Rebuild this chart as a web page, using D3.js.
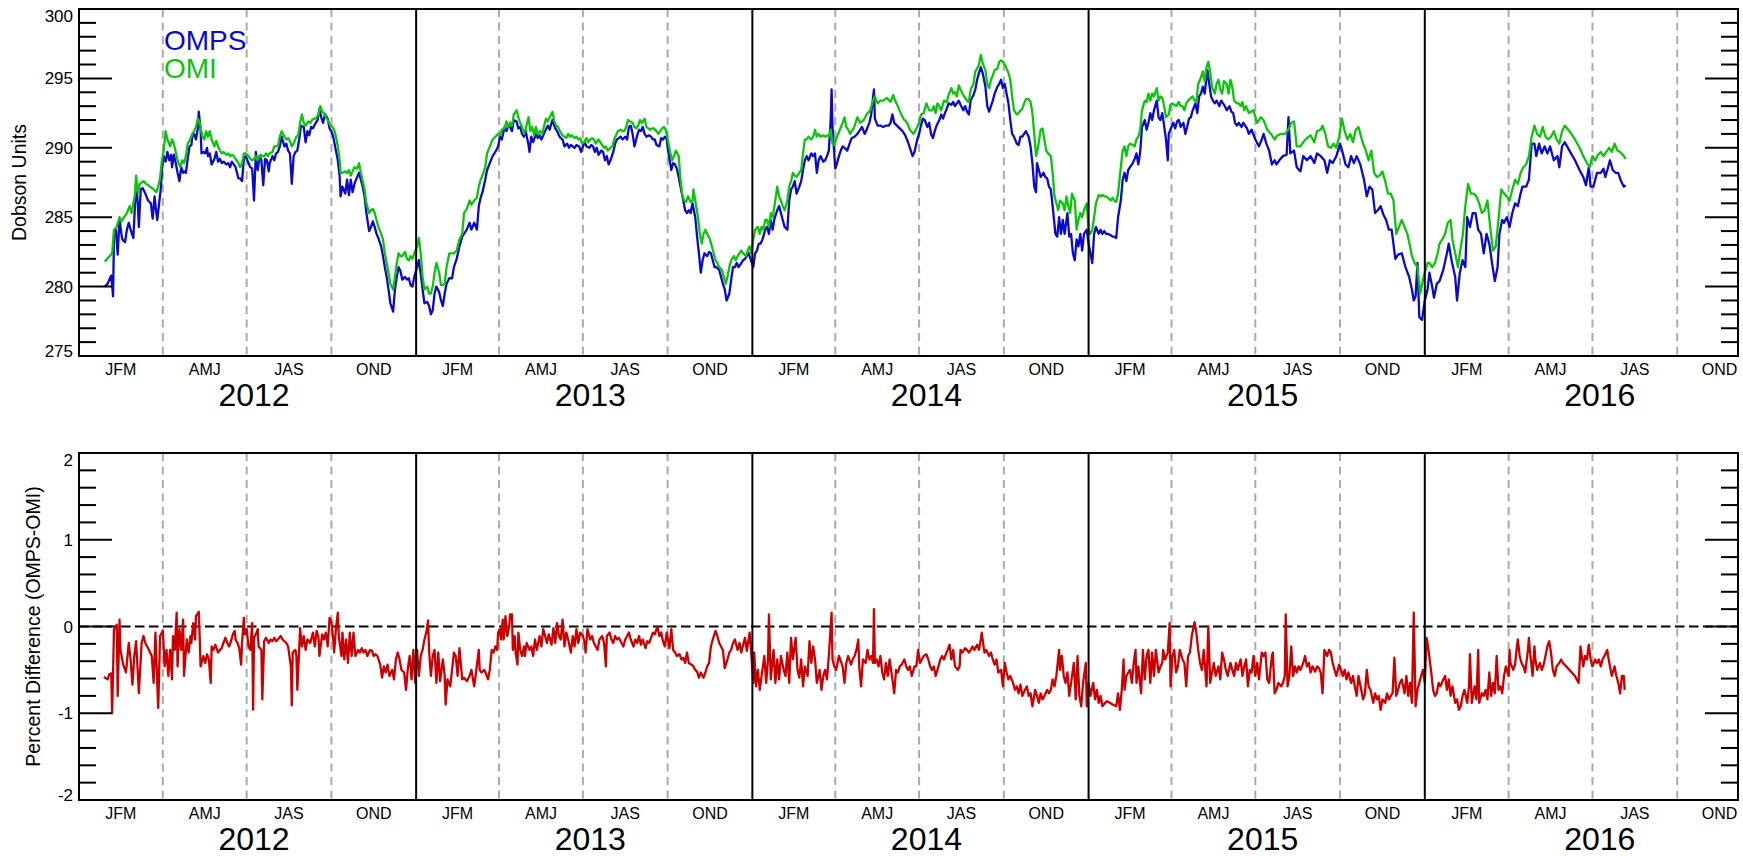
<!DOCTYPE html>
<html><head><meta charset="utf-8">
<script src="https://cdn.jsdelivr.net/npm/d3@7"></script>
<style>body{margin:0;background:#fff}svg{display:block}</style>
</head><body><svg id="chart" width="1743" height="856"></svg>
<script>
// ---- data (day = days since 2012-01-01) ----
const years = [2012, 2013, 2014, 2015, 2016];
const quarterLabels = ["JFM", "AMJ", "JAS", "OND"];
const ozoneTicks = [275, 280, 285, 290, 295, 300];
const diffTicks = [-2, -1, 0, 1, 2];
const legendNames = ["OMPS", "OMI"];

const ompsSeries = [[28,280.0],[31,280.2],[35,280.8],[37,279.3],[38,283.8],[40,284.1],[42,282.3],[44,284.9],[46,283.8],[47,283.4],[50,283.2],[52,284.1],[54,284.6],[56,284.1],[59,283.5],[60,284.8],[62,287.6],[64,285.8],[65,284.3],[67,287.0],[69,287.1],[72,286.7],[75,286.2],[78,286.0],[80,284.9],[82,286.5],[84,285.3],[85,284.8],[87,286.0],[89,287.2],[90,288.4],[92,289.4],[94,289.0],[96,289.7],[98,289.1],[100,289.5],[101,288.6],[103,289.5],[105,288.9],[107,288.2],[109,287.6],[111,288.6],[113,288.2],[114,288.3],[116,288.2],[118,289.2],[120,290.1],[122,290.2],[123,290.8],[125,291.0],[127,290.6],[129,291.4],[130,292.6],[132,291.3],[133,289.6],[135,289.7],[137,289.6],[139,290.0],[140,289.4],[142,289.6],[144,288.8],[147,289.2],[149,289.7],[151,289.0],[153,289.2],[155,288.9],[157,289.0],[160,288.8],[162,288.9],[164,288.6],[166,289.0],[168,288.8],[170,288.6],[173,287.8],[175,287.8],[177,287.6],[179,289.2],[181,289.4],[184,288.9],[186,288.6],[188,288.5],[190,286.2],[192,289.7],[194,288.4],[196,289.4],[198,289.1],[200,287.3],[202,289.2],[204,289.1],[206,288.3],[207,288.9],[210,289.4],[212,289.1],[214,289.6],[216,289.7],[218,290.1],[220,290.8],[223,290.1],[225,290.3],[227,289.8],[229,289.6],[231,287.4],[233,289.4],[235,289.7],[237,289.8],[239,290.6],[241,291.6],[244,291.5],[246,290.4],[248,291.2],[250,290.9],[252,291.5],[254,291.4],[257,291.8],[259,292.0],[261,292.8],[263,292.2],[265,291.8],[267,292.4],[270,292.1],[272,291.4],[274,291.2],[276,290.8],[278,290.1],[281,289.1],[283,287.9],[284,286.5],[286,287.2],[289,286.7],[291,287.7],[293,286.6],[295,287.7],[297,286.8],[299,287.4],[302,287.9],[304,288.2],[306,287.7],[308,287.2],[310,286.5],[312,285.3],[315,284.0],[317,284.3],[319,284.7],[321,284.3],[323,283.8],[325,283.5],[328,282.9],[330,282.2],[332,281.4],[334,280.7],[336,279.8],[338,278.8],[341,278.2],[343,279.8],[345,280.7],[347,281.4],[349,281.1],[351,280.5],[354,280.7],[356,280.5],[358,280.6],[360,280.1],[362,280.0],[364,280.7],[367,281.4],[369,281.9],[371,280.9],[373,279.8],[375,278.8],[378,278.9],[380,278.6],[382,278.0],[384,278.3],[386,279.5],[388,280.0],[391,279.6],[393,279.0],[395,278.6],[397,279.5],[399,280.2],[402,280.6],
[405,280.6],[407,281.4],[410,282.0],[413,282.9],[416,283.6],[418,283.8],[421,284.1],[424,284.6],[426,284.1],[429,284.6],[432,284.1],[434,285.8],[436,286.4],[438,286.8],[441,287.7],[443,288.4],[446,288.9],[449,289.4],[452,289.7],[455,290.1],[457,290.8],[459,290.6],[462,291.5],[464,291.2],[466,291.6],[468,291.5],[470,291.2],[472,292.0],[475,291.9],[477,291.4],[479,291.5],[481,291.0],[483,290.8],[485,291.2],[488,290.2],[489,289.7],[491,290.8],[493,290.4],[496,291.0],[498,290.7],[500,290.9],[502,290.6],[504,290.9],[506,291.2],[509,291.6],[511,291.3],[513,291.8],[514,292.0],[517,291.4],[519,291.2],[521,290.9],[523,290.7],[525,290.6],[527,290.1],[530,290.3],[532,290.0],[534,290.2],[536,290.1],[538,290.0],[540,290.2],[543,290.1],[545,289.7],[547,290.1],[549,290.4],[551,290.1],[554,290.0],[556,290.2],[558,290.1],[560,289.7],[562,290.0],[564,289.5],[567,289.8],[569,289.7],[571,289.1],[573,289.4],[575,288.8],[577,289.1],[580,289.7],[582,290.3],[584,290.6],[586,290.7],[588,290.8],[590,290.6],[593,290.8],[595,290.6],[597,291.5],[599,291.6],[601,291.0],[603,290.1],[606,290.9],[608,291.3],[610,291.2],[612,291.5],[614,291.0],[616,290.8],[619,290.9],[621,290.8],[623,290.6],[625,290.6],[627,290.2],[630,290.1],[632,290.7],[634,290.6],[636,290.8],[638,290.6],[640,289.6],[643,288.4],[645,288.9],[647,288.8],[649,288.5],[651,287.9],[653,287.2],[656,286.2],[658,285.5],[660,285.3],[662,285.5],[664,285.3],[666,286.0],[669,285.0],[671,283.6],[673,282.4],[675,281.0],[677,281.9],[679,282.4],[682,282.2],[684,282.5],[686,282.4],[688,281.9],[690,281.4],[692,281.4],[695,281.2],[697,280.7],[699,280.2],[701,279.8],[703,279.0],[706,279.5],[708,280.5],[710,281.4],[712,281.4],[714,281.7],[716,281.4],[719,281.7],[721,281.9],[723,282.0],[725,282.2],[727,282.4],[729,282.0],[732,281.4],[734,282.4],[736,282.6],[738,283.1],[740,283.1],[742,283.4],[745,284.1],[747,284.3],[749,283.8],[751,284.8],[753,284.1],[755,284.9],[758,285.5],[760,285.8],[762,285.3],[764,284.8],[766,284.3],[769,284.1],[771,286.2],[773,287.0],[775,287.2],[777,287.6],[779,286.7],[782,287.2],[784,287.6],[786,288.4],[788,289.1],[790,289.4],[792,289.1],[795,289.6],[797,289.4],[799,289.6],[801,288.2],[803,289.1],[805,289.4],[808,289.0],[810,289.1],[812,289.4],[814,289.8],[816,292.0],[817,294.2],[818,291.5],[821,288.5],[823,288.9],[825,289.4],[827,289.8],[829,290.1],[831,290.0],[834,289.8],[836,290.2],
[837,290.4],[839,290.7],[842,290.8],[845,291.0],[847,291.2],[850,291.5],[853,291.0],[855,291.3],[858,291.8],[860,292.4],[863,294.2],[864,292.1],[867,291.6],[870,291.6],[873,291.5],[876,291.6],[879,291.6],[881,291.8],[883,292.4],[885,291.8],[888,291.6],[891,291.4],[894,291.2],[897,290.9],[900,290.4],[902,290.0],[905,289.4],[907,289.7],[910,290.6],[912,291.0],[914,291.6],[916,292.1],[918,292.0],[921,291.5],[923,291.8],[925,291.0],[927,290.7],[929,291.2],[931,291.6],[934,292.0],[936,292.4],[938,292.1],[940,292.5],[942,292.8],[944,293.2],[947,293.1],[949,293.3],[951,293.0],[953,293.2],[955,293.4],[957,293.1],[960,292.7],[962,293.0],[964,292.6],[966,292.4],[968,293.4],[971,293.8],[973,294.2],[975,294.9],[977,295.4],[979,295.8],[981,295.4],[984,294.4],[986,293.0],[988,292.6],[990,293.0],[992,293.4],[994,293.9],[997,294.4],[999,294.6],[1001,294.9],[1003,294.3],[1005,294.6],[1007,293.9],[1009,293.2],[1011,292.0],[1013,291.0],[1015,290.8],[1018,290.3],[1020,290.2],[1022,290.8],[1024,290.8],[1026,291.0],[1028,291.2],[1031,290.8],[1033,290.1],[1035,288.9],[1037,287.2],[1039,286.8],[1040,288.9],[1042,288.4],[1044,287.9],[1047,288.2],[1049,287.9],[1051,287.8],[1053,287.2],[1055,287.0],[1057,285.8],[1060,283.8],[1062,283.6],[1064,285.0],[1066,283.8],[1068,284.8],[1070,283.8],[1073,285.3],[1075,283.6],[1077,283.8],[1079,282.4],[1081,281.9],[1083,283.4],[1085,282.9],[1087,283.8],[1089,282.6],[1091,283.8],[1094,284.1],[1096,283.1],[1098,282.4],[1100,281.7],[1102,283.8],[1104,284.3],[1107,283.8],[1109,284.1],[1111,283.8],[1113,284.0],[1115,283.8],[1117,283.8],[1120,283.7],[1122,283.6],[1124,283.6],[1126,283.5],[1128,285.0],[1131,286.2],[1133,287.7],[1135,288.2],[1137,287.6],[1139,288.4],[1141,288.6],[1144,288.9],[1146,289.2],[1148,289.6],[1150,288.8],[1152,289.7],[1154,291.5],[1157,292.0],[1159,291.3],[1161,291.8],[1163,292.5],[1165,292.0],[1167,292.7],[1170,293.4],[1172,292.2],[1174,292.0],[1176,292.5],[1178,291.6],[1180,290.6],[1182,289.1],[1183,291.0],[1186,291.5],[1188,291.8],[1190,291.4],[1192,291.9],[1194,292.0],[1196,291.5],[1199,291.8],[1201,291.0],[1203,291.5],[1205,292.1],[1207,292.2],[1209,292.7],[1212,293.2],[1214,292.5],[1216,293.7],[1218,293.9],[1220,294.4],[1222,293.9],[1225,295.6],[1227,294.6],[1229,293.7],[1231,293.4],[1233,293.2],[1235,293.4],[1238,293.0],[1240,293.4],[1242,293.2],[1244,293.0],[1246,292.7],[1249,293.0],[1251,292.6],[1253,292.5],[1255,291.8],[1257,291.6],[1259,291.8],[1262,291.5],[1264,291.8],[1266,291.6],[1268,291.4],[1270,291.0],
[1273,291.3],[1277,290.6],[1281,290.1],[1284,290.6],[1286,291.0],[1289,290.3],[1292,289.8],[1295,288.8],[1298,289.1],[1300,288.8],[1303,289.1],[1307,289.4],[1311,289.5],[1313,292.2],[1315,289.6],[1319,289.8],[1322,288.6],[1326,288.3],[1329,289.4],[1333,289.1],[1337,289.4],[1341,288.9],[1344,289.6],[1348,289.4],[1352,289.1],[1355,288.2],[1358,289.1],[1361,288.9],[1365,289.4],[1369,290.3],[1372,289.6],[1375,288.8],[1378,288.6],[1381,289.4],[1384,288.9],[1387,289.4],[1391,288.8],[1395,287.7],[1398,286.5],[1401,287.2],[1404,287.0],[1407,285.3],[1410,285.5],[1413,285.8],[1416,285.2],[1419,284.8],[1422,284.1],[1425,284.1],[1429,282.0],[1432,282.3],[1436,282.4],[1440,281.4],[1444,280.7],[1447,279.8],[1449,279.0],[1451,279.3],[1453,281.7],[1455,277.8],[1458,277.6],[1461,279.0],[1464,279.8],[1466,281.0],[1469,280.0],[1471,279.2],[1474,280.2],[1477,280.4],[1481,281.2],[1485,282.4],[1487,283.1],[1490,281.9],[1494,280.7],[1496,279.0],[1499,281.0],[1502,281.9],[1505,281.4],[1507,285.0],[1510,284.3],[1513,285.3],[1516,285.3],[1519,284.1],[1522,283.8],[1525,282.4],[1528,283.8],[1531,283.1],[1534,281.7],[1537,280.4],[1540,281.4],[1542,283.8],[1545,284.8],[1547,284.6],[1550,285.0],[1553,284.3],[1556,285.3],[1559,286.0],[1562,285.8],[1565,286.7],[1567,287.2],[1571,287.2],[1574,287.7],[1577,290.3],[1580,290.3],[1582,289.4],[1585,290.3],[1588,289.6],[1591,290.1],[1594,289.6],[1597,290.1],[1601,289.1],[1605,289.4],[1607,288.6],[1610,290.1],[1613,290.4],[1618,289.8],[1624,289.1],[1629,288.4],[1633,287.9],[1636,287.3],[1639,288.6],[1641,287.2],[1644,287.2],[1648,288.2],[1652,288.2],[1655,288.5],[1657,287.9],[1660,288.6],[1662,289.1],[1665,288.4],[1668,288.2],[1671,288.2],[1674,287.6],[1677,287.2],[1679,287.3]];

const omiSeries = [[28,281.8],[36,282.4],[38,284.1],[41,284.3],[44,285.0],[46,284.7],[49,285.0],[52,285.3],[55,285.8],[57,285.3],[59,286.0],[61,286.7],[62,288.0],[64,286.8],[66,287.4],[70,287.6],[73,287.4],[77,287.2],[81,287.0],[84,286.8],[86,287.2],[88,287.8],[90,289.1],[92,289.8],[94,291.2],[96,290.6],[99,290.1],[101,290.6],[103,290.3],[105,289.7],[107,289.1],[110,288.6],[112,289.1],[114,288.9],[116,289.4],[118,290.3],[120,290.5],[123,291.0],[125,291.2],[127,291.5],[129,292.1],[131,291.8],[134,290.8],[136,290.6],[138,291.2],[140,290.8],[142,291.2],[144,290.6],[147,290.1],[149,290.5],[151,290.1],[153,289.8],[155,289.6],[157,289.7],[160,289.5],[162,289.6],[164,289.4],[166,289.5],[168,289.4],[170,289.2],[173,288.9],[175,288.6],[177,288.9],[179,289.6],[181,289.6],[184,289.4],[186,289.2],[188,289.1],[190,289.2],[192,289.4],[194,289.1],[197,289.5],[199,289.4],[201,289.4],[203,289.6],[205,289.4],[207,289.6],[210,289.7],[212,290.1],[214,290.1],[216,290.1],[218,290.8],[220,291.2],[223,290.8],[225,290.6],[227,290.7],[229,290.5],[231,290.1],[233,290.3],[236,290.8],[238,290.9],[240,291.8],[242,292.4],[244,291.8],[246,291.6],[249,291.9],[251,291.8],[253,292.0],[255,292.1],[257,292.1],[260,292.4],[262,293.0],[264,292.6],[266,292.5],[268,292.2],[270,292.0],[273,291.6],[275,291.5],[277,291.3],[279,290.8],[281,290.1],[283,289.1],[284,288.2],[286,288.2],[289,288.3],[291,288.2],[293,288.4],[295,288.0],[297,288.3],[299,288.6],[302,288.5],[304,288.9],[306,288.2],[308,287.6],[310,287.0],[312,286.0],[315,285.3],[317,285.5],[319,285.6],[321,285.3],[323,284.8],[325,284.3],[328,283.8],[330,283.4],[332,282.4],[334,281.7],[336,281.0],[338,280.2],[341,279.8],[343,280.7],[345,281.7],[347,282.4],[349,282.2],[351,282.2],[354,282.5],[356,282.0],[358,281.9],[360,282.2],[362,282.0],[364,282.4],[367,282.9],[369,283.5],[371,282.4],[373,280.7],[375,279.8],[378,280.0],[380,279.5],[382,279.5],[384,280.0],[386,281.0],[388,281.7],[391,281.0],[393,280.1],[395,280.1],[397,280.2],[399,281.4],[402,282.4],
[407,282.4],[410,282.6],[413,283.4],[416,283.8],[418,285.3],[421,285.6],[424,286.2],[426,285.9],[429,286.2],[432,286.4],[434,287.2],[436,287.7],[438,288.0],[441,288.6],[443,289.6],[446,290.1],[449,290.6],[452,290.8],[455,291.0],[457,290.9],[459,291.3],[462,291.4],[464,291.9],[466,291.5],[468,291.8],[470,291.6],[472,292.4],[475,292.7],[477,292.2],[479,291.8],[481,291.5],[483,291.0],[485,291.4],[488,292.2],[490,291.2],[492,291.5],[494,290.9],[496,291.5],[498,291.0],[501,291.2],[503,291.0],[505,291.6],[507,292.1],[509,291.9],[511,292.2],[514,292.6],[516,291.9],[518,291.6],[520,291.5],[522,291.2],[525,290.9],[527,290.8],[529,290.7],[531,291.0],[533,290.8],[535,290.9],[538,290.7],[540,290.8],[542,290.6],[544,290.7],[546,290.3],[548,290.4],[551,290.7],[553,290.4],[555,290.6],[557,290.7],[559,290.6],[561,290.3],[564,290.6],[566,290.4],[568,290.2],[570,290.0],[572,290.1],[574,289.8],[577,290.0],[579,290.1],[581,290.6],[583,290.9],[585,291.2],[588,291.3],[590,291.2],[592,291.2],[594,291.5],[596,292.0],[598,291.9],[601,291.8],[603,291.5],[605,291.4],[607,291.6],[609,292.0],[611,291.8],[614,292.1],[616,291.5],[618,291.4],[620,291.3],[622,291.4],[624,291.4],[627,291.2],[629,291.0],[631,291.2],[633,291.4],[635,291.5],[637,291.3],[640,290.3],[642,289.6],[644,289.1],[646,289.4],[648,289.8],[651,289.4],[653,287.7],[655,286.6],[657,286.2],[659,286.1],[661,286.5],[664,286.1],[666,286.2],[667,287.0],[669,286.2],[672,285.0],[674,283.8],[676,283.1],[678,283.8],[680,284.1],[682,283.8],[685,283.4],[687,282.9],[689,282.4],[691,281.9],[693,281.7],[695,281.4],[698,281.2],[700,280.7],[702,280.2],[704,280.7],[706,281.4],[708,281.9],[711,282.2],[713,281.9],[715,282.2],[717,282.4],[719,282.6],[721,282.4],[724,282.2],[726,282.6],[728,282.9],[730,282.4],[732,283.4],[734,284.1],[737,284.3],[739,283.8],[741,284.3],[743,284.1],[745,284.8],[747,284.8],[749,284.3],[751,285.3],[753,285.0],[755,285.8],[758,287.2],[760,286.5],[762,286.2],[764,285.8],[766,285.5],[769,286.2],[771,287.2],[773,287.6],[775,288.2],[777,288.0],[779,287.9],[782,288.2],[784,288.4],[786,289.6],[788,290.6],[790,290.6],[792,290.8],[795,290.6],[797,290.8],[799,291.3],[801,290.8],[803,291.0],[805,290.8],[808,290.9],[810,290.8],[812,290.9],[814,290.8],[816,291.3],[818,290.3],[820,290.2],[822,290.6],[824,291.0],[826,291.3],[829,291.8],[831,292.2],[833,291.5],[836,291.2],
[837,291.0],[841,291.4],[845,292.2],[848,291.8],[852,292.0],[855,292.4],[859,292.7],[862,293.4],[864,293.7],[867,293.2],[870,293.4],[873,293.4],[877,293.6],[881,293.3],[884,293.8],[886,293.4],[889,293.0],[892,292.5],[895,292.1],[899,291.8],[902,291.3],[906,291.0],[910,291.5],[912,291.8],[914,292.4],[917,292.5],[920,293.2],[923,292.7],[926,292.7],[928,293.0],[930,292.5],[932,293.2],[934,293.0],[936,292.7],[939,293.4],[942,293.3],[944,293.8],[947,294.3],[949,293.9],[951,294.0],[953,293.7],[955,294.5],[957,294.2],[960,293.8],[962,293.6],[964,293.4],[966,293.3],[968,294.2],[971,294.6],[973,295.5],[975,295.7],[977,296.0],[979,296.7],[981,296.1],[984,295.6],[986,294.6],[988,294.3],[990,294.9],[992,295.2],[994,295.6],[997,295.7],[999,296.2],[1001,296.3],[1003,296.2],[1005,296.0],[1007,295.7],[1009,295.4],[1011,294.9],[1013,293.7],[1015,292.7],[1018,292.4],[1020,292.5],[1022,292.7],[1024,292.8],[1026,293.2],[1028,293.5],[1031,293.5],[1033,293.3],[1035,292.5],[1037,291.0],[1039,289.4],[1041,290.0],[1044,291.3],[1046,291.4],[1048,290.6],[1050,289.8],[1052,289.6],[1055,289.4],[1057,288.2],[1059,286.5],[1061,286.0],[1063,285.5],[1065,286.2],[1068,286.0],[1070,285.5],[1072,286.5],[1074,285.8],[1076,285.3],[1078,286.7],[1081,286.2],[1083,284.1],[1085,284.8],[1087,285.3],[1089,285.0],[1091,285.5],[1094,286.0],[1096,284.1],[1098,283.8],[1100,284.1],[1102,285.0],[1104,286.0],[1107,286.6],[1109,286.5],[1111,286.6],[1113,286.5],[1115,286.5],[1117,286.4],[1120,286.2],[1122,286.4],[1124,286.2],[1126,286.1],[1128,286.7],[1131,288.6],[1133,289.8],[1135,290.1],[1137,289.4],[1139,290.1],[1141,290.3],[1144,290.2],[1146,290.1],[1148,290.6],[1150,290.8],[1152,291.3],[1154,292.7],[1157,293.4],[1159,293.3],[1161,293.9],[1163,293.4],[1165,293.9],[1167,293.7],[1170,294.3],[1172,293.4],[1174,293.7],[1176,293.6],[1178,293.0],[1180,292.2],[1183,292.4],[1185,293.1],[1187,293.2],[1189,293.1],[1191,293.0],[1194,293.3],[1196,293.0],[1198,293.0],[1200,292.7],[1202,293.2],[1204,293.4],[1207,293.6],[1209,293.7],[1211,293.4],[1213,293.3],[1215,294.6],[1217,294.9],[1220,295.5],[1222,294.8],[1224,295.8],[1226,296.2],[1228,295.5],[1230,294.4],[1233,293.9],[1235,294.6],[1237,294.9],[1239,294.2],[1241,293.9],[1243,294.8],[1246,294.6],[1248,293.9],[1250,294.9],[1252,294.4],[1254,293.4],[1257,293.2],[1259,293.2],[1261,293.0],[1263,293.3],[1265,292.7],[1267,293.0],[1270,292.5],
[1275,292.7],[1279,291.8],[1283,292.2],[1286,292.0],[1290,291.3],[1294,291.0],[1298,290.6],[1301,290.9],[1305,291.0],[1309,291.0],[1313,291.3],[1316,291.8],[1319,291.9],[1322,290.1],[1326,290.1],[1329,290.4],[1333,290.7],[1337,290.9],[1341,290.4],[1344,291.2],[1348,291.3],[1350,291.6],[1353,291.0],[1356,290.1],[1359,290.0],[1362,290.3],[1365,290.0],[1368,290.8],[1371,292.1],[1374,291.2],[1377,290.6],[1380,291.0],[1383,290.4],[1386,291.3],[1389,291.5],[1391,291.0],[1394,290.3],[1397,289.8],[1400,289.1],[1403,289.8],[1406,288.2],[1409,287.9],[1412,288.0],[1415,288.3],[1418,287.6],[1421,286.7],[1424,286.7],[1427,286.2],[1430,283.8],[1433,284.3],[1436,284.8],[1439,284.3],[1442,283.8],[1445,282.9],[1447,282.2],[1450,281.7],[1453,281.4],[1456,279.5],[1459,280.5],[1461,281.0],[1464,281.7],[1466,281.7],[1469,281.4],[1472,281.7],[1475,282.4],[1477,283.1],[1480,283.4],[1483,283.8],[1486,284.6],[1489,284.8],[1491,283.4],[1494,282.4],[1497,281.4],[1499,282.4],[1502,283.6],[1505,285.8],[1508,287.4],[1511,286.7],[1514,286.7],[1517,286.5],[1520,286.0],[1523,285.3],[1526,285.5],[1529,286.2],[1532,284.3],[1535,282.6],[1538,282.9],[1541,284.8],[1544,287.0],[1547,286.7],[1550,286.5],[1553,286.2],[1556,287.0],[1559,287.7],[1562,287.4],[1565,288.2],[1568,288.6],[1571,288.8],[1574,289.4],[1577,290.8],[1580,291.6],[1583,291.0],[1586,290.8],[1589,291.5],[1592,290.8],[1595,290.6],[1598,290.8],[1601,291.2],[1604,290.6],[1607,290.3],[1610,291.2],[1613,291.6],[1618,291.2],[1624,290.6],[1629,290.0],[1633,289.4],[1637,288.9],[1640,288.6],[1643,289.4],[1646,289.1],[1649,289.5],[1652,289.7],[1655,289.4],[1658,289.7],[1661,290.0],[1664,289.7],[1667,290.3],[1670,289.8],[1673,289.7],[1676,289.5],[1679,289.2]];

const diffSeries = [[27,-0.58],[31,-0.61],[33,-0.55],[35,-0.54],[36,-1.0],[38,-0.03],[41,0.02],[42,-0.80],[44,0.08],[45,-0.27],[48,-0.44],[51,-0.53],[54,-0.19],[56,-0.38],[58,-0.67],[60,-0.34],[62,-0.17],[65,-0.77],[68,-0.19],[70,-0.11],[72,-0.19],[76,-0.27],[79,-0.34],[81,-0.65],[83,-0.07],[84,-0.38],[86,-0.94],[88,-0.11],[91,-0.05],[93,-0.46],[95,-0.27],[97,-0.57],[99,-0.27],[101,-0.61],[102,-0.11],[104,-0.27],[106,0.16],[107,-0.46],[109,-0.03],[111,-0.27],[113,0.08],[114,-0.57],[117,-0.15],[119,-0.30],[121,-0.11],[122,-0.19],[124,0.04],[126,-0.15],[127,0.12],[130,0.17],[131,-0.11],[132,-0.46],[135,-0.34],[137,-0.42],[139,-0.32],[141,-0.38],[143,-0.65],[144,-0.23],[146,-0.27],[148,-0.21],[151,-0.30],[153,-0.27],[155,-0.25],[156,-0.21],[159,-0.13],[161,-0.19],[163,-0.23],[165,-0.17],[167,-0.09],[169,-0.05],[170,-0.15],[172,-0.19],[174,-0.25],[176,-0.44],[177,-0.19],[179,0.10],[180,-0.09],[182,-0.03],[184,-0.23],[186,-0.27],[188,0.04],[189,-0.96],[190,-0.13],[192,-0.09],[194,-0.03],[195,-0.23],[198,-0.27],[199,-0.84],[201,-0.17],[203,-0.13],[206,-0.19],[208,-0.15],[210,-0.17],[212,-0.13],[214,-0.17],[216,-0.15],[219,-0.11],[221,-0.15],[223,-0.17],[225,-0.19],[227,-0.23],[230,-0.46],[231,-0.91],[232,-0.30],[235,-0.27],[236,-0.34],[237,-0.73],[239,-0.27],[240,-0.02],[242,-0.23],[244,-0.11],[246,-0.27],[248,-0.15],[251,-0.19],[253,-0.11],[254,-0.07],[256,-0.23],[258,-0.05],[260,-0.13],[261,-0.34],[264,-0.09],[266,-0.15],[268,-0.07],[270,-0.23],[272,0.10],[274,0.06],[276,-0.15],[277,-0.30],[279,-0.02],[281,0.16],[282,-0.11],[285,-0.34],[286,-0.07],[288,-0.38],[290,-0.15],[292,-0.42],[294,-0.07],[296,-0.34],[298,-0.07],[300,-0.34],[303,-0.27],[305,-0.30],[307,-0.25],[309,-0.30],[311,-0.27],[313,-0.34],[316,-0.27],[318,-0.28],[320,-0.34],[322,-0.32],[324,-0.34],[327,-0.44],[329,-0.59],[331,-0.46],[333,-0.53],[335,-0.44],[337,-0.57],[340,-0.50],[342,-0.61],[344,-0.38],[346,-0.30],[348,-0.38],[350,-0.50],[353,-0.53],[355,-0.73],[357,-0.48],[359,-0.34],[361,-0.61],[363,-0.27],[365,-0.65],[367,-0.27],[369,-0.57],[371,-0.34],[373,-0.27],[375,-0.15],[377,-0.07],[379,0.07],[380,-0.27],[382,-0.57],[384,-0.34],[386,-0.27],[388,-0.65],[390,-0.30],[392,-0.63],[395,-0.38],[397,-0.57],[398,-0.90],[400,-0.61],[403,-0.69],[405,-0.50],[407,-0.30],[409,-0.34],[411,-0.57],[413,-0.25],[416,-0.61],[418,-0.59],[421,-0.63],
[424,-0.57],[426,-0.50],[429,-0.69],[431,-0.53],[434,-0.27],[435,-0.50],[437,-0.53],[440,-0.50],[442,-0.55],[444,-0.61],[446,-0.50],[448,-0.27],[450,-0.30],[452,-0.23],[454,-0.27],[455,-0.07],[457,-0.03],[458,-0.15],[460,0.08],[461,-0.15],[463,0.12],[464,-0.05],[465,-0.11],[467,0.00],[468,0.14],[470,0.14],[471,-0.27],[473,-0.11],[474,-0.30],[476,-0.44],[477,-0.07],[479,-0.27],[481,-0.34],[483,-0.23],[484,-0.34],[486,-0.19],[489,-0.27],[491,-0.23],[493,-0.34],[495,-0.15],[497,-0.27],[500,-0.11],[502,-0.23],[504,-0.03],[506,-0.11],[508,-0.19],[510,-0.09],[513,-0.21],[515,-0.02],[517,-0.19],[519,0.04],[521,-0.11],[523,-0.15],[525,0.08],[527,-0.23],[529,-0.07],[531,-0.15],[534,-0.30],[536,-0.11],[538,-0.23],[540,-0.03],[542,-0.19],[544,-0.07],[547,-0.11],[549,-0.19],[550,-0.30],[552,-0.03],[555,-0.15],[557,-0.11],[559,-0.19],[561,-0.23],[563,-0.27],[565,-0.15],[568,-0.11],[570,-0.19],[572,-0.46],[573,-0.11],[576,-0.07],[578,-0.15],[580,-0.19],[582,-0.11],[584,-0.15],[586,-0.13],[589,-0.19],[591,-0.23],[593,-0.15],[595,-0.11],[597,-0.07],[599,-0.15],[602,-0.23],[604,-0.15],[606,-0.19],[608,-0.11],[610,-0.21],[612,-0.15],[615,-0.25],[617,-0.17],[619,-0.19],[621,-0.13],[623,-0.07],[625,-0.09],[628,0.00],[630,-0.11],[632,-0.07],[634,-0.17],[636,-0.23],[638,-0.07],[641,-0.25],[643,-0.03],[645,-0.27],[647,-0.30],[649,-0.34],[652,-0.32],[654,-0.38],[656,-0.36],[658,-0.42],[660,-0.30],[662,-0.42],[665,-0.44],[667,-0.46],[669,-0.50],[671,-0.52],[673,-0.59],[675,-0.53],[678,-0.59],[680,-0.53],[682,-0.46],[684,-0.42],[686,-0.23],[688,-0.15],[691,-0.05],[693,-0.11],[695,-0.19],[697,-0.23],[699,-0.27],[701,-0.48],[704,-0.38],[706,-0.30],[708,-0.27],[710,-0.19],[712,-0.15],[715,-0.27],[717,-0.19],[719,-0.30],[721,-0.21],[723,-0.13],[725,-0.28],[728,-0.07],[730,-0.34],[732,-0.65],[733,-0.30],[735,-0.69],[737,-0.50],[739,-0.73],[741,-0.57],[744,-0.34],[746,-0.65],[748,-0.38],[749,0.14],[751,-0.61],[754,-0.27],[756,-0.65],[758,-0.38],[760,-0.61],[762,-0.34],[765,-0.50],[767,-0.57],[769,-0.30],[771,-0.65],[773,-0.13],[775,-0.38],[778,-0.13],[780,-0.50],[782,-0.59],[784,-0.38],[786,-0.69],[788,-0.46],[791,-0.57],[793,-0.17],[795,-0.42],[797,-0.23],[799,-0.38],[801,-0.65],[804,-0.50],[806,-0.73],[808,-0.57],[810,-0.50],[812,-0.61],[814,-0.34],[817,0.16],[818,-0.38],[820,-0.46],[822,-0.50],[825,-0.34],[827,-0.40],[829,-0.46],[831,-0.65],[833,-0.42],[835,-0.34],[838,-0.44],[840,-0.38],[842,-0.34],[844,-0.27],[846,-0.15],
[847,-0.46],[849,-0.69],[851,-0.38],[854,-0.42],[856,-0.27],[858,-0.38],[860,-0.34],[862,-0.42],[863,0.20],[864,-0.42],[866,-0.38],[868,-0.46],[870,-0.34],[872,-0.53],[874,-0.61],[876,-0.42],[878,-0.57],[880,-0.38],[883,-0.61],[885,-0.77],[887,-0.50],[889,-0.53],[891,-0.46],[893,-0.44],[896,-0.38],[898,-0.46],[900,-0.50],[902,-0.46],[904,-0.57],[907,-0.46],[909,-0.46],[911,-0.27],[913,-0.42],[915,-0.38],[917,-0.34],[920,-0.32],[922,-0.38],[924,-0.46],[926,-0.50],[928,-0.46],[930,-0.57],[933,-0.46],[935,-0.38],[937,-0.34],[939,-0.38],[941,-0.32],[943,-0.27],[945,-0.21],[947,-0.38],[949,-0.27],[951,-0.46],[954,-0.50],[956,-0.46],[957,-0.27],[959,-0.30],[962,-0.25],[964,-0.27],[966,-0.30],[968,-0.27],[970,-0.23],[972,-0.27],[975,-0.21],[977,-0.27],[979,-0.15],[980,-0.07],[982,-0.23],[983,-0.30],[985,-0.27],[988,-0.34],[990,-0.30],[992,-0.38],[994,-0.44],[996,-0.38],[998,-0.53],[1001,-0.50],[1003,-0.69],[1005,-0.42],[1007,-0.53],[1009,-0.61],[1011,-0.57],[1014,-0.65],[1016,-0.73],[1018,-0.69],[1020,-0.77],[1022,-0.67],[1024,-0.80],[1027,-0.73],[1029,-0.69],[1031,-0.80],[1033,-0.77],[1035,-0.92],[1038,-0.73],[1040,-0.80],[1042,-0.88],[1044,-0.77],[1046,-0.84],[1048,-0.80],[1051,-0.73],[1053,-0.77],[1055,-0.73],[1057,-0.61],[1059,-0.69],[1061,-0.57],[1064,-0.27],[1065,-0.50],[1067,-0.34],[1069,-0.57],[1071,-0.65],[1073,-0.53],[1075,-0.80],[1077,-0.65],[1080,-0.42],[1082,-0.84],[1084,-0.34],[1086,-0.80],[1088,-0.92],[1090,-0.65],[1093,-0.42],[1094,-0.92],[1096,-0.65],[1098,-0.80],[1101,-0.65],[1103,-0.84],[1105,-0.73],[1107,-0.88],[1109,-0.80],[1111,-0.92],[1114,-0.88],[1116,-0.86],[1119,-0.88],[1122,-0.90],[1126,-0.92],[1128,-0.77],[1130,-0.96],[1132,-0.73],[1134,-0.38],[1135,-0.73],[1137,-0.57],[1139,-0.53],[1141,-0.50],[1143,-0.65],[1145,-0.42],[1147,-0.27],[1148,-0.65],[1150,-0.46],[1153,-0.77],[1155,-0.27],[1157,-0.61],[1159,-0.34],[1161,-0.27],[1163,-0.65],[1165,-0.30],[1167,-0.57],[1169,-0.27],[1172,-0.53],[1174,-0.46],[1176,-0.42],[1177,-0.27],[1179,-0.38],[1182,-0.30],[1184,0.04],[1185,-0.69],[1187,-0.34],[1189,-0.27],[1191,-0.53],[1193,-0.46],[1195,-0.27],[1198,-0.38],[1200,-0.42],[1202,-0.69],[1204,-0.34],[1206,-0.30],[1208,-0.11],[1211,0.05],[1213,-0.07],[1215,-0.27],[1217,-0.42],[1219,-0.50],[1221,-0.27],[1224,-0.69],[1226,0.00],[1228,-0.65],[1230,-0.53],[1232,-0.42],[1234,-0.57],[1237,-0.46],[1239,-0.61],[1241,-0.30],[1243,-0.38],[1245,-0.50],[1247,-0.57],[1250,-0.42],[1252,-0.50],[1254,-0.57],[1256,-0.42],[1258,-0.50],[1261,-0.38],[1263,-0.57],[1265,-0.46],[1267,-0.38],[1269,-0.69],
[1271,-0.50],[1273,-0.53],[1275,-0.34],[1277,-0.57],[1279,-0.42],[1281,-0.61],[1284,-0.30],[1286,-0.34],[1288,-0.30],[1290,-0.61],[1292,-0.65],[1295,-0.34],[1296,-0.30],[1298,-0.77],[1300,-0.73],[1302,-0.65],[1305,-0.69],[1307,-0.65],[1309,-0.57],[1310,0.14],[1312,-0.69],[1314,-0.57],[1316,-0.23],[1318,-0.57],[1320,-0.46],[1322,-0.53],[1324,-0.46],[1326,-0.50],[1329,-0.42],[1331,-0.34],[1333,-0.46],[1335,-0.42],[1337,-0.53],[1339,-0.46],[1342,-0.52],[1344,-0.46],[1346,-0.48],[1348,-0.53],[1350,-0.77],[1352,-0.27],[1355,-0.34],[1357,-0.27],[1359,-0.30],[1361,-0.42],[1363,-0.50],[1365,-0.57],[1368,-0.44],[1370,-0.50],[1372,-0.57],[1374,-0.50],[1376,-0.61],[1378,-0.53],[1381,-0.65],[1383,-0.57],[1385,-0.69],[1387,-0.80],[1389,-0.57],[1392,-0.73],[1394,-0.84],[1396,-0.77],[1398,-0.50],[1400,-0.69],[1402,-0.73],[1405,-0.88],[1407,-0.77],[1409,-0.84],[1411,-0.80],[1413,-0.96],[1415,-0.84],[1418,-0.88],[1420,-0.77],[1422,-0.84],[1424,-0.80],[1426,-0.77],[1428,-0.36],[1430,-0.80],[1432,-0.73],[1434,-0.65],[1436,-0.61],[1439,-0.77],[1441,-0.57],[1443,-0.80],[1445,-0.65],[1447,-0.88],[1449,0.16],[1451,-0.92],[1453,-0.73],[1455,-0.65],[1457,-0.57],[1459,-0.50],[1461,-0.65],[1463,-0.13],[1465,-0.27],[1468,-0.53],[1470,-0.73],[1472,-0.80],[1474,-0.77],[1476,-0.65],[1478,-0.69],[1481,-0.61],[1483,-0.57],[1485,-0.73],[1487,-0.61],[1489,-0.80],[1491,-0.69],[1494,-0.88],[1496,-0.84],[1498,-0.96],[1500,-0.92],[1502,-0.80],[1504,-0.73],[1507,-0.88],[1509,-0.69],[1510,-0.32],[1512,-0.88],[1515,-0.69],[1517,-0.84],[1519,-0.27],[1520,-0.88],[1523,-0.77],[1525,-0.80],[1527,-0.73],[1529,-0.84],[1531,-0.53],[1533,-0.80],[1535,-0.65],[1537,-0.77],[1539,-0.34],[1541,-0.73],[1543,-0.69],[1545,-0.77],[1547,-0.57],[1549,-0.46],[1552,-0.57],[1553,-0.27],[1554,-0.42],[1557,-0.50],[1559,-0.44],[1561,-0.23],[1562,-0.15],[1564,-0.34],[1566,-0.42],[1568,-0.46],[1570,-0.53],[1573,-0.27],[1574,-0.13],[1575,-0.27],[1578,-0.57],[1580,-0.23],[1581,-0.38],[1583,-0.50],[1586,-0.42],[1588,-0.50],[1590,-0.44],[1592,-0.34],[1594,-0.23],[1596,-0.17],[1598,-0.30],[1600,-0.50],[1602,-0.57],[1604,-0.46],[1607,-0.42],[1609,-0.38],[1611,-0.42],[1618,-0.50],[1624,-0.57],[1628,-0.65],[1630,-0.23],[1633,-0.46],[1635,-0.34],[1637,-0.38],[1639,-0.21],[1641,-0.38],[1643,-0.46],[1646,-0.38],[1648,-0.42],[1650,-0.38],[1652,-0.46],[1654,-0.38],[1656,-0.34],[1659,-0.27],[1660,-0.34],[1662,-0.46],[1664,-0.57],[1667,-0.46],[1669,-0.57],[1671,-0.65],[1673,-0.77],[1675,-0.57],[1677,-0.57],[1678,-0.73]];

// ---- layout & style ----
const FONT = '"Liberation Sans", Arial, Helvetica, sans-serif';
const plotLeft = 79, plotRight = 1738;
const colors = { omps: "#0a0ac8", omi: "#0cc40c", diff: "#cc0000" };
const dayDate = d => new Date(Date.UTC(2012, 0, 1 + d));

const x = d3.scaleUtc()
  .domain([new Date(Date.UTC(2012, 0, 1)), new Date(Date.UTC(2016, 11, 6))])
  .range([plotLeft, plotRight]);

const svg = d3.select("#chart");
svg.append("rect").attr("width", 1743).attr("height", 856).attr("fill", "#fff");

const panels = [
  { top: 9, bottom: 356, domain: [275, 300], majors: ozoneTicks, minorStep: 1,
    title: "Dobson Units", titleX: 26,
    series: [{ data: ompsSeries, color: colors.omps }, { data: omiSeries, color: colors.omi }] },
  { top: 453, bottom: 800, domain: [-2, 2], majors: diffTicks, minorStep: 0.2,
    title: "Percent Difference (OMPS-OMI)", titleX: 40, zeroLine: true,
    series: [{ data: diffSeries, color: colors.diff }] }
];

const [d0, d1] = x.domain();
const quarterStarts = [];
years.forEach(yr => [3, 6, 9].forEach(m => {
  const dt = new Date(Date.UTC(yr, m, 1));
  if (dt > d0 && dt < d1) quarterStarts.push(dt);
}));
const yearStarts = years.slice(1).map(yr => new Date(Date.UTC(yr, 0, 1)));

panels.forEach(p => {
  const y = d3.scaleLinear().domain(p.domain).range([p.bottom, p.top]);
  const g = svg.append("g");

  // dashed quarter separators
  g.selectAll(".q").data(quarterStarts).join("line")
    .attr("x1", d => x(d)).attr("x2", d => x(d))
    .attr("y1", p.top).attr("y2", p.bottom)
    .attr("stroke", "#aaaaaa").attr("stroke-width", 2).attr("stroke-dasharray", "8,5.5");

  if (p.zeroLine) {
    g.append("line").attr("x1", plotLeft).attr("x2", plotRight)
      .attr("y1", y(0)).attr("y2", y(0))
      .attr("stroke", "#000").attr("stroke-width", 2).attr("stroke-dasharray", "9.5,4.5");
  }

  // data lines
  const line = d3.line().x(d => x(dayDate(d[0]))).y(d => y(d[1]));
  p.series.forEach(s => {
    g.append("path").datum(s.data).attr("d", line)
      .attr("fill", "none").attr("stroke", s.color).attr("stroke-width", 2.3)
      .attr("stroke-linejoin", "round");
  });

  // solid year separators
  g.selectAll(".yr").data(yearStarts).join("line")
    .attr("x1", d => x(d)).attr("x2", d => x(d))
    .attr("y1", p.top).attr("y2", p.bottom)
    .attr("stroke", "#000").attr("stroke-width", 2);

  // ticks (left and right, inward)
  const minors = d3.range(p.domain[0], p.domain[1] + p.minorStep / 2, p.minorStep);
  const isMajor = v => p.majors.some(m => Math.abs(m - v) < 1e-6);
  minors.forEach(v => {
    const len = isMajor(v) ? 33 : 17;
    g.append("line").attr("x1", plotLeft).attr("x2", plotLeft + len)
      .attr("y1", y(v)).attr("y2", y(v)).attr("stroke", "#000").attr("stroke-width", 2);
    g.append("line").attr("x1", plotRight).attr("x2", plotRight - len)
      .attr("y1", y(v)).attr("y2", y(v)).attr("stroke", "#000").attr("stroke-width", 2);
  });

  // frame
  g.append("rect").attr("x", plotLeft).attr("y", p.top)
    .attr("width", plotRight - plotLeft).attr("height", p.bottom - p.top)
    .attr("fill", "none").attr("stroke", "#000").attr("stroke-width", 2);

  // y tick labels
  const fsTick = 17;
  g.selectAll(".tl").data(p.majors).join("text")
    .attr("x", 73)
    .attr("y", d => Math.min(Math.max(y(d), p.top + 6.5), p.bottom - 5.5) + fsTick * 0.355)
    .attr("text-anchor", "end").attr("font-family", FONT).attr("font-size", fsTick)
    .attr("fill", "#000").text(d => d);

  // y title
  g.append("text")
    .attr("transform", `translate(${p.titleX},${(p.top + p.bottom) / 2}) rotate(-90)`)
    .attr("text-anchor", "middle").attr("font-family", FONT).attr("font-size", 19.5)
    .attr("fill", "#000").text(p.title);

  // quarter labels
  years.forEach(yr => {
    quarterLabels.forEach((lab, qi) => {
      const a = new Date(Date.UTC(yr, qi * 3, 1));
      const b = new Date(Date.UTC(yr, qi * 3 + 3, 1));
      const cx = (x(a) + x(b)) / 2;
      if (cx < plotLeft || cx > plotRight) return;
      g.append("text").attr("x", cx).attr("y", p.bottom + 18.5)
        .attr("text-anchor", "middle").attr("font-family", FONT).attr("font-size", 16)
        .attr("fill", "#000").text(lab);
    });
    g.append("text").attr("x", x(new Date(Date.UTC(yr, 6, 9)))).attr("y", p.bottom + 50)
      .attr("text-anchor", "middle").attr("font-family", FONT).attr("font-size", 32)
      .attr("fill", "#000").text(yr);
  });
});

// legend
const legendColors = [colors.omps, colors.omi];
svg.selectAll(".leg").data(legendNames).join("text")
  .attr("x", 164).attr("y", (d, i) => 50 + i * 28)
  .attr("font-family", FONT).attr("font-size", 28)
  .attr("fill", (d, i) => legendColors[i]).text(d => d);
</script>
</body></html>
